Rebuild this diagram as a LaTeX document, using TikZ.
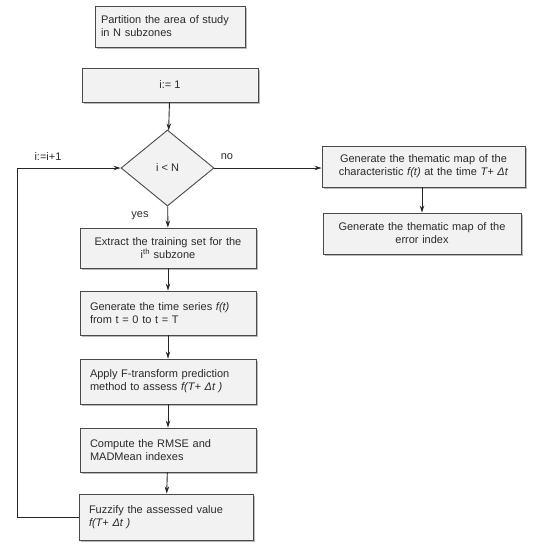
\documentclass[tikz,border=0pt]{standalone}
\usepackage{fontspec}
\setmainfont{Liberation Sans}
\usetikzlibrary{shapes.geometric,arrows.meta,shadows}
\definecolor{boxfill}{HTML}{F2F2F2}
\definecolor{boxline}{HTML}{4A4A4A}
\definecolor{txt}{HTML}{2A2A2A}
\tikzset{
  flowbox/.style={draw=boxline, line width=0.9pt, fill=boxfill, text=txt,
    font=\fontsize{11}{13}\selectfont, inner ysep=0pt, inner xsep=0pt,
    drop shadow={shadow xshift=1.8pt, shadow yshift=-1.8pt, fill=black!45, opacity=0.6}},
  lbox/.style={flowbox, align=left},
  cbox/.style={flowbox, align=center},
  decision/.style={diamond, draw=boxline, line width=0.9pt, fill=boxfill, text=txt,
    font=\fontsize{11}{13}\selectfont, inner sep=0pt, aspect=1.22,
    minimum width=93pt, minimum height=76pt},
  conn/.style={draw=black!85, line width=0.9pt, -{Stealth[length=7pt,width=4.5pt]}},
  lbl/.style={text=txt, font=\fontsize{11}{13}\selectfont, inner sep=0pt}
}
\begin{document}
\begin{tikzpicture}
\useasboundingbox (0pt,0pt) rectangle (533pt,-550pt);
\fill[white] (0pt,0pt) rectangle (533pt,-550pt);

\node[lbox, minimum width=150pt, minimum height=41pt, text width=138pt] (part) at (170pt,-26.5pt)
  {Partition the area of study\\in N subzones};
\node[cbox, minimum width=176pt, minimum height=34pt] (init) at (170pt,-85pt) {i:= 1};
\node[decision] (dia) at (167.5pt,-168pt) {i < N};
\node[cbox, minimum width=176pt, minimum height=40pt, text width=170pt] (extr) at (168pt,-248pt)
  {Extract the training set for the\\i\textsuperscript{th} subzone};
\node[lbox, minimum width=176pt, minimum height=44pt, text width=156pt] (ser) at (168pt,-313pt)
  {Generate the time series \textit{f(t)}\\from t = 0 to t = T};
\node[lbox, minimum width=176pt, minimum height=45pt, text width=156pt] (appl) at (168pt,-381.5pt)
  {Apply F-transform prediction\\method to assess \textit{f(T+ Δt )}};
\node[lbox, minimum width=176pt, minimum height=44pt, text width=156pt] (comp) at (168pt,-450pt)
  {Compute the RMSE and\\MADMean indexes};
\node[lbox, minimum width=174pt, minimum height=46pt, text width=154pt] (fuz) at (166pt,-517pt)
  {Fuzzify the assessed value\\\textit{f(T+ Δt )}};
\node[cbox, minimum width=203pt, minimum height=41pt, text width=200pt] (map1) at (423.5pt,-166.5pt)
  {Generate the thematic map of the\\characteristic \textit{f(t)} at the time \textit{T+ Δt}};
\node[cbox, minimum width=198pt, minimum height=41pt, text width=194pt] (map2) at (422pt,-233.5pt)
  {Generate the thematic map of the\\error index};

\draw[conn] (init) -- (dia);
\draw[conn] (dia) -- (extr);
\draw[conn] (extr) -- (ser);
\draw[conn] (ser) -- (appl);
\draw[conn] (appl) -- (comp);
\draw[conn] (comp) -- (fuz);
\draw[conn] (dia.east) -- (map1.west |- dia.east);
\draw[conn] (map1.south -| map2.north) -- (map2.north);
\draw[conn] (fuz.west) -- ++(-61pt,0pt) |- (dia.west);

\node[lbl] (lbinc) at (48pt,-157pt) {i:=i+1};
\node[lbl] (lbno) at (227pt,-157pt) {no};
\node[lbl] (lbyes) at (140pt,-216pt) {yes};
\end{tikzpicture}
\end{document}
